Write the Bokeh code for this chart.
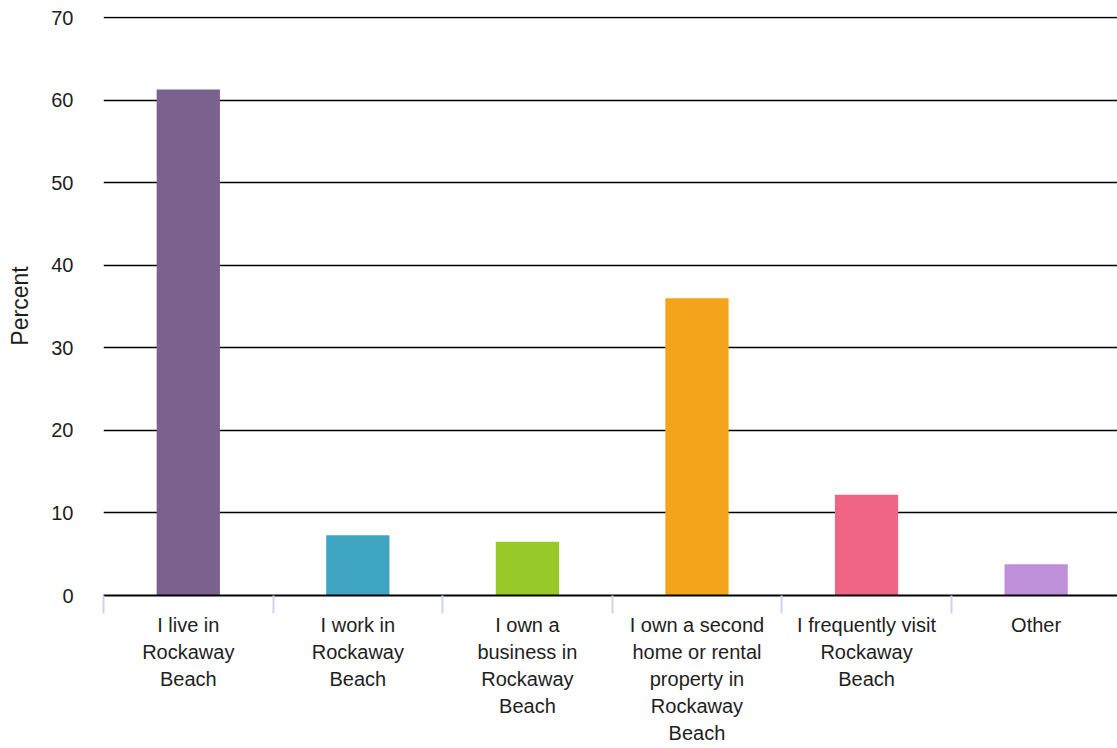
from bokeh.plotting import figure
from bokeh.models import ColumnDataSource, Range1d, LinearAxis, FixedTicker
from bokeh.embed import file_html
from bokeh.resources import INLINE

categories = [
    "I live in\nRockaway\nBeach",
    "I work in\nRockaway\nBeach",
    "I own a\nbusiness in\nRockaway\nBeach",
    "I own a second\nhome or rental\nproperty in\nRockaway\nBeach",
    "I frequently visit\nRockaway\nBeach",
    "Other",
]
percent = [61.3, 7.3, 6.5, 36.0, 12.2, 3.8]
colors = ["#7B618E", "#40A4C3", "#97C928", "#F4A41B", "#F06485", "#BF90DA"]
y_ticks = [0, 10, 20, 30, 40, 50, 60, 70]

n = len(categories)
centers = [i + 0.5 for i in range(n)]
bounds = [float(i) for i in range(n + 1)]

source = ColumnDataSource(dict(x=centers, top=percent, color=colors, label=categories))

FONT = "Liberation Sans"

p = figure(
    width=1117, height=748,
    x_range=Range1d(0, n - 0.02), y_range=Range1d(0, 70.15),
    x_axis_type=None,
    output_backend="svg", toolbar_location=None,
    min_border_left=103, min_border_right=0, min_border_top=16, min_border_bottom=153,
)
p.outline_line_color = None
p.background_fill_color = "white"
p.border_fill_color = "white"

p.vbar(x="x", top="top", bottom=0, width=0.373, color="color", line_color=None, source=source)

xaxis = LinearAxis(
    ticker=FixedTicker(ticks=centers, minor_ticks=bounds),
    major_label_overrides={c: lab for c, lab in zip(centers, categories)},
)
xaxis.axis_line_color = "black"
xaxis.axis_line_width = 2
xaxis.major_tick_line_color = None
xaxis.major_tick_out = 0
xaxis.major_tick_in = 0
xaxis.minor_tick_line_color = "#ccd6eb"
xaxis.minor_tick_line_width = 2
xaxis.minor_tick_out = 18
xaxis.minor_tick_in = 0
xaxis.major_label_standoff = 0
xaxis.major_label_text_font = FONT
xaxis.major_label_text_font_size = "20px"
xaxis.major_label_text_color = "#1e1e1e"
xaxis.major_label_text_line_height = 1.23
xaxis.major_label_text_align = "center"
p.add_layout(xaxis, "below")

p.yaxis.ticker = FixedTicker(ticks=y_ticks)
p.yaxis.axis_line_color = None
p.yaxis.major_tick_line_color = None
p.yaxis.major_tick_out = 0
p.yaxis.major_tick_in = 0
p.yaxis.minor_tick_line_color = None
p.yaxis.major_label_standoff = 30
p.yaxis.major_label_text_font = FONT
p.yaxis.major_label_text_font_size = "20px"
p.yaxis.major_label_text_color = "#1e1e1e"
p.yaxis.axis_label = "Percent"
p.yaxis.axis_label_text_font = FONT
p.yaxis.axis_label_text_font_size = "23px"
p.yaxis.axis_label_text_font_style = "normal"
p.yaxis.axis_label_text_color = "#1e1e1e"
p.yaxis.axis_label_standoff = 15

p.xgrid.visible = False
p.ygrid.ticker = FixedTicker(ticks=y_ticks)
p.ygrid.grid_line_color = "black"
p.ygrid.grid_line_width = 1.5

open("out.html", "w").write(file_html(p, INLINE))
